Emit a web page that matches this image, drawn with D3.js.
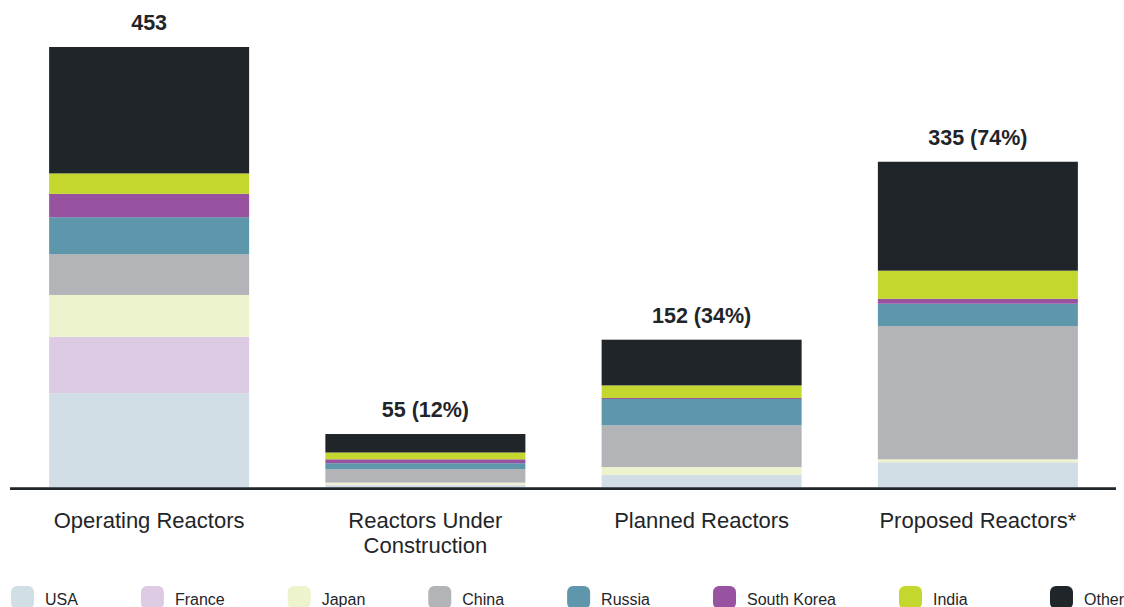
<!DOCTYPE html>
<html>
<head>
<meta charset="utf-8">
<script src="https://cdn.jsdelivr.net/npm/d3@7"></script>
<style>
  html, body { margin: 0; padding: 0; background: #ffffff; }
  svg { display: block; font-family: "Liberation Sans", Arial, Helvetica, sans-serif; }
</style>
</head>
<body>
<svg id="chart" width="1124" height="607"></svg>
<script>
// ---- data ----
const categories = ["Operating Reactors", "Reactors Under Construction", "Planned Reactors", "Proposed Reactors*"];
const categoryLines = [["Operating Reactors"], ["Reactors Under", "Construction"], ["Planned Reactors"], ["Proposed Reactors*"]];
const seriesNames = ["USA", "France", "Japan", "China", "Russia", "South Korea", "India", "Other"];
const usa        = [97, 2, 13, 26];
const france     = [58, 1, 0, 0];
const japan      = [43, 2, 8, 3];
const china      = [42, 14, 43, 137];
const russia     = [38, 6, 27, 23];
const southKorea = [24, 4, 1, 5];
const india      = [21, 7, 13, 29];
const other      = [130, 19, 47, 112];
const colors = ["#d1dee5", "#dccbe2", "#edf4cd", "#b3b4b7", "#5e97ab", "#9752a0", "#c3d72f", "#1f2528"];

const seriesValues = [usa, france, japan, china, russia, southKorea, india, other];
const rows = categories.map((c, i) => {
  const r = { category: c };
  seriesNames.forEach((s, j) => { r[s] = seriesValues[j][i]; });
  return r;
});
const totals = rows.map(r => d3.sum(seriesNames, s => r[s]));

// ---- layout ----
const W = 1124;
const svg = d3.select("#chart");
const baseline = 487.5;
const x = d3.scaleBand().domain(categories).range([11, 1116]).paddingInner(0.276).paddingOuter(0.138);
const y = d3.scaleLinear().domain([0, d3.max(totals)]).range([baseline, 47]);
const color = d3.scaleOrdinal().domain(seriesNames).range(colors);

const stack = d3.stack().keys(seriesNames)(rows);

svg.append("g").selectAll("g")
  .data(stack).join("g")
  .attr("fill", d => color(d.key))
  .selectAll("rect")
  .data(d => d).join("rect")
  .attr("x", d => x(d.data.category))
  .attr("width", x.bandwidth())
  .attr("y", d => y(d[1]))
  .attr("height", d => y(d[0]) - y(d[1]));

// axis baseline
svg.append("line")
  .attr("x1", 10).attr("x2", 1116)
  .attr("y1", 488.6).attr("y2", 488.6)
  .attr("stroke", "#1f2528").attr("stroke-width", 2.6);

// value labels
const base = totals[0];
svg.append("g").selectAll("text")
  .data(rows).join("text")
  .attr("x", d => x(d.category) + x.bandwidth() / 2)
  .attr("y", (d, i) => y(totals[i]) - 17)
  .attr("text-anchor", "middle")
  .attr("font-size", 21.5)
  .attr("font-weight", "bold")
  .attr("fill", "#1f2528")
  .text((d, i) => i === 0 ? String(totals[i]) : `${totals[i]} (${Math.round(totals[i] / base * 100)}%)`);

// category labels
const catG = svg.append("g").selectAll("text")
  .data(categories).join("text")
  .attr("x", d => x(d) + x.bandwidth() / 2)
  .attr("y", 528)
  .attr("text-anchor", "middle")
  .attr("font-size", 22)
  .attr("fill", "#1f2528");
catG.each(function(d, i) {
  d3.select(this).selectAll("tspan")
    .data(categoryLines[i]).join("tspan")
    .attr("x", x(d) + x.bandwidth() / 2)
    .attr("dy", (t, k) => k === 0 ? 0 : 24.5)
    .text(t => t);
});

// legend: items flow left to right; last item flush with the right edge
const legend = svg.append("g");
const items = seriesNames.map(s => {
  const g = legend.append("g");
  g.append("rect")
    .attr("x", 0).attr("y", 586)
    .attr("width", 23).attr("height", 23)
    .attr("rx", 6).attr("ry", 6)
    .attr("fill", color(s));
  const t = g.append("text")
    .attr("x", 34).attr("y", 604.5)
    .attr("font-size", 16)
    .attr("fill", "#1f2528")
    .text(s);
  return { g, w: 34 + t.node().getComputedTextLength() };
});
const gap = 63;
let cursor = 11;
items.forEach((it, i) => {
  const pos = i === items.length - 1 ? W - it.w : cursor;
  it.g.attr("transform", `translate(${pos},0)`);
  cursor += it.w + gap;
});
</script>
</body>
</html>
